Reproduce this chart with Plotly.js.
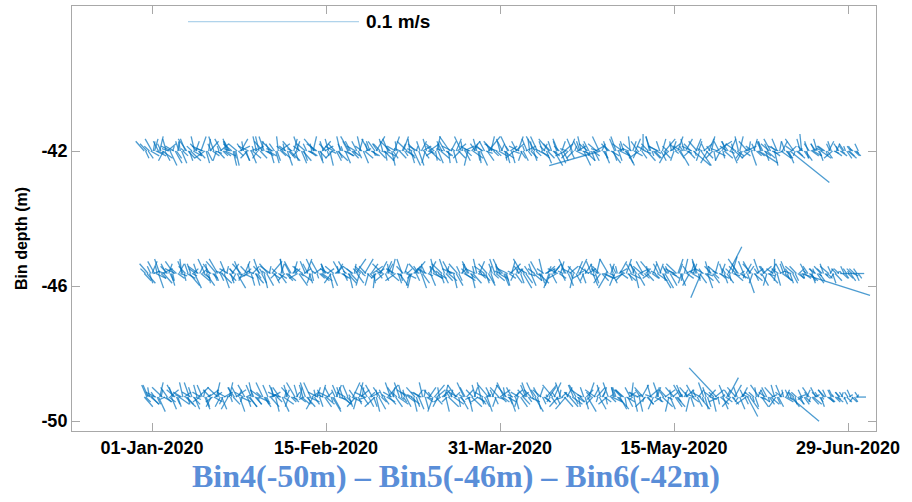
<!DOCTYPE html>
<html>
<head>
<meta charset="utf-8">
<script src="https://cdn.plot.ly/plotly-3.0.1.min.js"></script>
<style>html,body{margin:0;padding:0;background:#fff;}#chart{width:912px;height:502px;}</style>
</head>
<body>
<div id="chart"></div>
<script>
// ---- data: velocity components (mm/s), sampled 00h / 08h / 16h each day from 2019-12-30 ----
const startDate = [2019, 11, 30];            // first day (UTC, month 0-based)
const binDepths = [-42.0, -45.63, -49.29];   // Bin6, Bin5, Bin4 (m)
const sampleHours = [0, 8, 16];

// 00h samples
const u42 = [-5,3,-4,6,2,-3,5,-6,4,-2, 3,-5,6,-2,4,-6,2,5,-3,4, -4,6,-3,2,-5,4,3,-6,5,-2, 4,-3,5,-6,2,6,-4,3,-5,2,
 -3,5,-2,4,-6,3,5,-4,2,-5, 6,-2,3,-5,4,-3,-2,5,-4,3, 5,-4,6,-3,2,-5,4,3,-6,2, -4,3,5,-2,6,-5,3,-3,4,-6,
 2,5,-4,3,-5,6,-2,4,-3,7, -5,3,-2,6,-4,2,5,-6,3,-3, 4,-5,6,-2,3,-4,5,-3,2,-6, 3,-4,5,-2,6,-3,4,-5,-30,3,
 -4,5,-3,6,-2,4,-5,3,-6,0, 5,-3,4,-6,2,-4,6,-2,3,-5, 4,-3,10,-5,6,-2,3,-4,9,-3, 5,-4,3,-6,2,4,-5,3,-2,11,
 -3,5,-4,2,-6,3,4,23,-5,3, -1,4,-3,5,-2,6,-4,3,-5,2, 4,-3,5,-2,3];
const v42 = [4,-3,5,-2,6,-4,3,2,-5,4, -2,5,-4,6,-3,2,-5,4,6,-3, 5,-2,4,-6,3,5,-4,2,-3,6, -3,6,-2,4,-5,3,2,-6,4,-4,
 6,-4,3,-2,5,-5,4,3,-6,2, -4,3,-5,6,-2,4,6,-3,5,-2, 6,3,-4,5,-6,2,-3,6,4,-5, 3,-6,2,5,-4,3,-5,4,-2,6,
 -5,3,6,-4,2,-3,5,-6,4,6, 4,-2,5,-3,6,-5,3,2,-4,5, -3,6,-2,4,-5,3,-6,5,4,-2, 5,-3,2,6,-4,4,-2,3,-6,-5,
 3,-5,6,-2,4,-6,3,5,-3,7, -4,6,-3,2,5,-5,3,-4,6,2, 5,-2,-6,4,-6,3,5,-3,4,-4, -3,4,-5,3,6,-2,4,-6,3,-5,
 4,-3,5,-6,2,4,-3,-13,5,-2, 7,-4,3,-2,5,-3,2,4,-3,3, -2,3,-3,2,-2];
const u46 = [4,-5,3,6,-3,5,-4,2,-6,3, -3,5,-2,4,-6,3,5,-4,2,-5, 6,-3,4,-2,5,-5,3,-6,4,2, -4,2,-5,6,-3,4,-2,5,-4,3,
 5,-6,3,-2,4,-4,6,-3,2,-5, 3,5,-4,2,-6,4,-3,5,-2,6, -3,4,-5,3,2,-6,5,-4,3,-2, 6,-3,4,-5,3,-2,5,-6,4,-4,
 2,-5,3,6,-4,5,-2,3,-6,4, -2,5,-4,3,-6,2,4,-3,5,-5, 3,-4,6,-2,5,-3,4,-6,2,-4, 5,-2,3,-5,4,-6,3,2,-4,6,
 -5,3,-2,4,-6,5,-3,2,6,-4, 4,-6,3,-3,5,-2,4,-5,3,-2, 6,-4,2,-3,-6,5,-2,4,-5,3, 2,8,3,-4,5,-3,4,-5,2,-3,
 5,-2,3,0,-4,6,-3,2,-5,4, 40,-3,5,-2,4,-4,3,-5,2,-3, 14,-2,3,-3,2];
const v46 = [-3,4,5,-2,6,-4,3,-5,2,4, 5,-2,4,-6,3,2,-5,4,-3,6, -4,5,-3,2,-6,4,5,-2,3,-5, 3,-6,4,5,-2,-4,6,-3,5,2,
 -5,3,6,-4,2,5,-3,4,-6,3, 4,-2,5,-6,3,-4,2,6,-5,3, -2,5,-3,4,6,-3,-5,3,2,-6, 5,3,-4,2,-5,6,-2,4,-3,5,
 -6,4,2,-3,5,-4,6,-2,3,-5, 4,-3,6,-5,2,5,-4,3,-6,2, -5,2,-4,6,3,-5,4,2,-3,6, 3,-6,5,-2,4,3,-5,6,-4,-2,
 6,-4,3,5,-2,-3,4,-6,2,5, -3,5,-2,4,-6,3,-5,2,6,-4, 2,-5,4,6,-10,-3,5,-4,3,-2, -4,11,7,3,-2,5,-8,4,-3,6,
 3,-5,4,6,2,-3,5,-4,3,-2, -9,4,-3,2,-4,3,-2,3,-4,2, 0,3,-2,2,-3];
const u50 = [5,-3,4,-6,2,5,-4,3,-5,6, -2,4,-5,3,6,-3,2,-4,5,-6, 3,-5,2,4,-3,6,-4,5,-2,3, -6,4,-3,5,2,-4,6,-2,3,-5,
 4,-2,5,-4,3,-6,2,5,-3,4, -3,6,-5,2,4,-2,5,-6,3,-4, 2,-4,3,6,-5,4,-3,2,-6,5, -5,3,-2,4,-4,6,-3,5,2,-2,
 6,-5,4,-3,2,-4,5,-2,3,-6, 3,-2,6,-4,5,-3,2,-5,4,-3, -4,5,-3,2,6,-2,4,-5,3,-6, 5,-3,4,-6,2,3,-4,5,-2,4,
 -3,6,-2,4,-5,3,1,-4,2,-5, 4,-2,5,-3,6,-4,3,-5,2,-3, 5,-2,-4,3,-6,2,4,2,-16,5, -3,6,4,-5,3,-2,6,-4,2,-5,
 4,-3,5,-2,3,-4,2,17,-3,4, -2,3,-4,5,-3,2,-4,3,-2,4, -3,2,-2,3,6];
const v50 = [-4,5,-3,2,6,-2,4,-5,3,-3, 6,-3,2,-5,4,5,-4,3,-2,4, -5,2,6,-3,4,-2,5,-4,6,-3, 3,-4,5,2,-6,4,-3,5,-2,6,
 -2,5,-4,6,-3,2,5,-3,4,-5, 5,-3,2,-4,6,-5,3,2,-4,5, -6,4,-3,5,2,-4,6,-2,3,-3, 4,-5,6,-2,3,5,-4,3,-6,2,
 -3,2,-5,4,-6,3,-2,6,-4,5, 5,-4,3,6,-2,4,-5,2,-3,6, 3,-6,4,-3,5,-2,6,-4,2,-5, -4,5,-2,3,-5,6,-3,4,5,-2,
 6,-2,4,-5,3,-4,6,2,-6,4, -3,5,-2,6,-4,3,-5,4,-2,5, 3,-6,5,-4,2,-5,3,-6,12,-3, 5,8,-3,4,-5,3,-8,2,-4,5,
 -2,4,-3,5,-4,2,3,-10,2,-3, 3,-2,4,-3,2,-4,3,-2,3,-2, 2,-3,2,-2,0];

// 08h samples
const u42b = [2,-3,1,4,-2,3,-4,1,3,-1, -2,4,-3,2,1,-4,3,-2,4,-1, 3,-2,-4,1,3,-3,2,4,-1,-3, 1,3,-2,-4,2,3,-1,4,-3,2,
 -4,2,3,-1,-3,4,-2,1,3,-4, 2,-1,4,-3,1,2,-4,3,-2,1, -3,4,1,-2,3,-1,-4,2,4,-3, 1,-2,3,4,-3,1,-1,-4,2,3,
 -2,4,-1,3,-4,2,1,-3,4,-2, 3,-4,2,1,-2,4,-3,3,-1,2, -1,3,-4,2,4,-2,1,-3,3,-4, 2,1,-3,4,-2,-1,3,-4,2,1,
 -3,2,4,-1,3,-4,2,-2,1,4, -4,1,3,-2,4,-3,-1,2,3,-2, 3,-4,1,2,-3,4,-2,1,-4,3, -2,3,-1,4,-3,2,1,-4,3,-1,
 4,-2,3,-3,1,-4,2,3,-1,2, -3,1,4,-2,2,-3,1,-2,3,-1, 2,-1,3,-2,1];
const v42b = [-3,2,4,-1,3,-4,1,2,-3,4, 1,-3,2,4,-2,1,-4,3,-1,2, -2,4,1,-3,-2,3,-4,1,2,-3, 4,-1,3,1,-4,-2,3,-3,1,4,
 2,-4,-1,3,2,-3,4,-2,-1,3, -3,2,-2,4,-1,-3,2,1,4,-2, 3,-1,-4,2,-3,4,1,-2,-3,1, 2,4,-3,-1,2,-4,3,1,-2,4,
 1,-3,4,-2,1,3,-4,2,-1,3, -2,1,3,-4,2,-1,4,-3,2,-2, 4,-2,1,3,-3,4,-1,2,-4,1, -3,2,4,-1,3,-2,-4,1,3,-3,
 2,-4,1,3,-2,1,4,-3,2,-1, 3,-2,-1,4,-3,2,4,-1,-3,2, -1,3,-2,4,1,-3,2,-4,1,3, 4,-1,3,-2,-3,1,4,2,-2,4,
 -2,3,-1,2,4,-1,-3,2,-2,1, 2,-3,1,3,-2,1,-2,3,-1,2, -1,2,-2,1,-1];
const u46b = [-3,2,4,-1,3,-4,2,1,-3,4, 1,-2,3,-4,2,4,-1,-3,2,3, -4,1,2,-3,4,-2,3,-1,-4,2, 3,-2,1,4,-3,2,-4,1,3,-1,
 2,4,-3,1,-2,3,-1,4,-4,2, -1,3,-2,4,1,-3,2,-4,3,1, 4,-3,2,-1,-4,3,1,2,-2,-3, 2,1,-4,3,-1,4,-2,3,1,-3,
 -4,2,1,-3,3,-1,4,-2,2,1, 3,-1,-4,2,4,-3,1,2,-2,4, -2,3,1,-4,2,3,-1,4,-3,2, 1,-4,3,2,-1,3,-2,-4,4,1,
 3,-2,-1,4,-3,2,1,-4,2,3, -1,4,-3,2,1,-2,3,-4,2,-1, 4,2,-3,1,-2,4,-1,3,-3,2, -2,1,4,-3,2,-1,3,-2,4,1,
 -3,4,2,-1,3,-2,1,-4,2,3, 1,-2,3,-1,2,-3,1,2,-2,1, -1,2,-1,3,-2];
const v46b = [2,-4,1,3,-2,1,4,-3,2,-1, -3,4,-1,2,3,-2,4,1,-3,2, 1,3,-4,2,-1,-3,2,4,1,-2, -4,1,3,-2,2,4,-3,-1,2,3,
 -1,2,4,-3,1,-2,3,2,-4,1, 3,-2,1,-3,4,2,-1,3,-2,-4, 2,1,-3,4,2,-1,-3,4,1,-2, -3,4,2,-1,3,-2,1,-4,3,2,
 1,-3,4,2,-2,3,-1,1,-4,3, -2,4,1,-3,-2,1,3,-4,2,-1, 4,-1,-3,2,3,-4,2,-2,1,3, -2,3,1,-4,2,-1,4,2,-3,1,
 -1,4,3,-2,1,-3,2,4,-1,-2, 3,-2,1,4,-3,2,-1,1,4,-3, -2,4,1,-3,2,-1,3,-2,1,4, 2,-3,-1,4,1,-2,3,-4,2,-1,
 3,-1,2,-3,1,4,-2,1,-3,2, -2,1,-3,2,-1,2,-1,2,-2,1, 1,-2,1,-1,2];
const u50b = [3,-1,-4,2,1,-3,4,-2,2,-3, 4,1,-2,3,-4,1,2,-3,4,-1, -2,3,1,-4,2,-1,3,4,-2,1, -3,2,4,-1,3,-4,1,-2,3,2,
 1,-3,2,4,-1,2,-4,3,1,-2, 4,-2,3,-1,-3,2,1,-4,3,2, -1,3,-2,4,1,-3,2,-1,4,-3, 2,-4,1,3,-2,4,-1,2,-3,1,
 3,1,-2,4,-3,2,-4,1,3,-1, -2,4,3,-1,2,-3,1,4,-4,2, 1,-3,2,4,-1,3,-2,1,-4,3, -4,2,1,-3,4,-2,3,-1,2,1,
 2,-1,3,-4,1,4,-2,3,-3,-1, 3,-4,2,1,-2,3,-1,4,2,-3, -1,2,-4,3,1,-2,4,-3,1,2, 4,-3,1,-2,3,2,-4,1,-1,3,
 -2,1,3,-4,2,-1,3,-2,1,4, -3,2,-1,3,-2,1,-2,3,-1,2, 1,-1,2,-2,1];
const v50b = [-2,4,1,-3,3,-1,-2,4,-3,1, 2,-3,4,-1,-2,3,1,-4,2,3, -3,1,-2,4,3,-2,1,-4,3,-1, 2,-3,1,4,-2,1,3,-4,-1,2,
 4,-1,-3,2,3,-4,1,2,-2,3, -1,4,-2,1,3,-3,4,-1,2,-4, 3,-2,1,-3,4,2,-1,3,-2,1, -4,2,3,-1,2,-3,4,1,-2,3,
 2,-4,1,3,-1,4,-2,-3,1,2, 3,-1,-2,4,-3,1,2,-4,3,-2, -1,3,4,-2,1,-3,2,3,-1,4, 2,-3,-4,1,3,-1,4,-2,2,-3,
 1,4,-2,3,-4,2,-1,1,3,-2, -3,1,4,-2,2,-1,3,-4,1,3, 2,-4,1,3,-2,4,-1,2,-3,1, -2,3,-1,4,2,-3,1,-2,4,-1,
 3,-2,1,-4,2,3,-1,2,-3,1, -1,3,-2,1,2,-1,3,-2,1,-1, 2,-1,1,-2,1];

// 16h samples
const u42c = [-4,5,2,-3,6,-2,4,-5,1,3, -3,2,5,-4,3,-6,1,4,-2,5, 4,-3,-5,2,6,-1,-4,3,5,-2, -5,4,2,-3,-1,5,-4,6,2,-3,
 3,-5,4,2,-6,1,5,-2,-4,3, -2,6,-3,4,-5,2,3,-1,5,-4, 4,-2,5,-6,3,-3,2,5,-1,4, -5,3,-2,6,-4,2,5,-3,1,-6,
 3,-4,6,-2,5,-3,1,-5,4,2, -6,5,-3,2,4,-5,3,-2,6,-1, 2,-4,5,-3,-6,4,-2,3,5,-4, -3,6,-2,4,-5,2,5,-4,3,-2,
 5,-3,2,-6,4,-1,5,-4,3,-5, -2,4,-5,3,6,-3,2,-4,5,-2, 4,-6,3,-2,5,-4,2,6,-3,1, -4,3,5,-2,-3,6,-5,2,4,-3,
 2,-5,4,-3,6,-2,3,-4,5,-2, 3,-2,4,-3,2,-4,3,-2,4,-3, -2,3,-2,3,-2];
const v42c = [3,-2,5,4,-3,5,-6,2,4,-5, 5,-4,-2,3,6,-3,5,-2,-4,3, -2,5,3,-6,2,4,-3,-5,2,6, 4,-2,-5,3,6,-3,2,-4,5,-2,
 -5,3,-2,6,3,-4,2,5,-3,-4, 6,-2,4,-3,2,5,-5,3,-2,4, -3,5,-2,4,6,-4,3,-2,5,-6, 2,4,-5,3,-2,6,-3,4,-5,2,
 5,-3,2,-6,4,3,-5,2,-4,6, 3,-2,4,-5,2,-3,6,-4,2,5, -4,6,-3,2,5,-2,4,-5,3,-3, 5,-2,4,-6,3,-4,2,6,-3,4,
 -2,5,-4,3,-5,6,-2,4,-3,2, 6,-3,2,-4,5,-2,4,3,-6,5, -3,2,5,-4,3,-5,6,-2,4,-3, 2,5,-3,6,-4,2,-3,5,-2,4,
 -4,3,-2,5,-3,4,-5,2,-3,5, -3,4,-2,3,-4,2,-3,4,-2,3, 2,-3,2,-2,3];
const u46c = [5,-2,-4,3,6,-3,2,-5,4,-1, -4,6,3,-2,5,-4,1,3,-6,2, 3,-5,4,-2,-3,6,-4,2,5,-3, -2,4,-6,3,5,-1,4,-3,2,-5,
 6,-3,2,-4,1,5,-2,-5,3,4, -4,2,5,-3,6,-2,-5,3,4,-1, 2,-6,3,5,-4,2,-3,6,-2,4, -5,3,-2,4,6,-4,2,-3,5,-6,
 4,-2,5,-3,2,-6,3,4,-5,2, -3,5,-4,2,6,-2,3,-5,4,-3, 5,-4,2,6,-3,4,-5,2,-2,3, -6,3,4,-2,5,-3,2,-4,6,-5,
 2,-3,5,-4,3,6,-2,4,-5,3, -4,2,6,-3,5,-2,4,-6,3,2, -3,5,-2,4,-5,3,-4,2,6,-2, 4,-3,5,-6,2,3,-4,5,-2,4,
 -3,5,-4,2,-3,4,-2,3,-4,2, 4,-3,2,-4,3,-2,3,-2,4,-3, 3,-2,3,-3,2];
const v46c = [-4,3,5,-6,2,4,-3,5,-2,6, 3,-5,2,4,-3,6,-4,-2,5,-3, -6,2,4,-3,5,-2,3,-5,-4,6, 2,-5,3,-4,-2,6,-3,4,5,-2,
 -3,5,-4,6,-2,-3,4,2,-5,3, 5,-3,-4,2,6,-5,3,-2,4,-6, -2,4,5,-3,2,-4,6,-2,-5,3, 4,-6,3,5,-2,3,-4,6,-3,2,
 -5,3,-2,4,-6,2,5,-3,4,-4, 6,-2,3,-5,4,-3,2,6,-4,3, -3,5,-4,2,-6,3,-2,5,4,-5, 2,-4,6,-3,2,5,-4,3,-2,-6,
 4,-5,2,-3,6,-2,4,-5,3,2, -2,4,-3,5,-6,3,-2,4,-5,6, 3,-2,5,-4,2,-6,3,5,-2,4, -4,2,-3,6,-2,4,5,-3,2,-5,
 3,-4,2,-5,4,-3,2,-4,3,-2, -2,3,-4,2,-3,4,-2,3,-3,2, -2,2,-3,2,-2];
const u50c = [-3,5,-2,4,-6,3,5,-4,2,-5, 6,-3,4,-2,-5,3,6,-4,2,-3, 5,-4,-2,6,3,-5,2,-3,4,6, -4,2,5,-3,-6,4,2,-5,3,-2,
 5,-3,6,-4,2,-2,4,-6,5,3, -2,4,-3,6,-5,2,3,-4,5,-6, 4,-2,5,-3,-4,6,-2,3,-5,2, 3,-6,2,4,-3,5,-4,2,6,-3,
 -5,3,-4,2,6,-2,4,-5,3,-3, 2,-5,4,-6,3,5,-2,4,-3,6, -4,2,-5,3,4,-6,2,-3,5,-2, 6,-4,3,-2,5,-3,-6,4,2,-5,
 3,-2,6,-4,5,-3,2,-5,4,-6, 5,-3,2,-4,6,-2,3,5,-4,2, -5,4,-2,6,-3,2,-4,5,-6,3, 2,-5,4,-2,3,-6,5,-3,2,4,
 -4,3,-5,2,-3,5,-2,4,-3,2, 3,-2,4,-3,2,-3,4,-2,3,-2, -2,3,-2,2,-2];
const v50c = [5,-3,2,-6,4,-2,3,5,-4,2, -4,6,-3,5,2,-5,3,-2,6,-4, 2,-5,4,3,-6,2,-4,5,-3,-2, 6,-3,-4,5,2,-6,3,4,-2,5,
 -3,6,-2,-5,4,3,-4,2,-6,5, 4,-3,5,-2,-4,6,-3,5,2,-4, -5,3,-2,6,4,-3,5,-4,2,-6, 3,2,-5,4,-6,3,-2,5,-4,3,
 5,-2,6,-3,-4,5,-3,2,-6,4, -3,4,-2,5,-6,3,-4,2,5,-2, 6,-5,3,-2,4,5,-3,6,-4,2, -3,5,-2,4,-6,2,3,-5,4,-3,
 -2,4,-5,3,-2,4,-6,2,5,-4, 3,-5,4,-2,3,-6,2,-4,5,3, 4,-2,3,-5,6,-4,2,3,-2,-5, 3,-4,5,-2,4,-3,-5,2,3,-4,
 2,-3,4,-3,5,-2,3,-4,2,-3, -3,2,-3,4,-2,3,-2,3,-2,2, 2,-2,3,-2,2];

const uSets = [[u42, u46, u50], [u42b, u46b, u50b], [u42c, u46c, u50c]];
const vSets = [[v42, v46, v50], [v42b, v46b, v50b], [v42c, v46c, v50c]];

const xTickVals = ['2020-01-01', '2020-02-15', '2020-03-31', '2020-05-15', '2020-06-29'];
const xTickText = ['01-Jan-2020', '15-Feb-2020', '31-Mar-2020', '15-May-2020', '29-Jun-2020'];
const yTickVals = [-50, -46, -42];
const yTickText = ['-50', '-46', '-42'];

const scaleRef = 100;                  // reference vector, mm/s (0.1 m/s)
const scaleLabel = '0.1 m/s';
const scaleStart = '2020-01-10T07:26:00Z';
const scaleDepth = -38.17;

// ---- stick scaling ----
const DAY = 86400000, HOUR = 3600000;
const DAYS_PER_MMS = 0.4422;   // horizontal: days per mm/s (matches the 0.1 m/s key)
const M_PER_MMS = 0.072;       // vertical: metres of depth axis per mm/s

const t0 = Date.UTC(startDate[0], startDate[1], startDate[2]);
const xs = [], ys = [];
for (let s = 0; s < sampleHours.length; s++) {
  for (let k = 0; k < binDepths.length; k++) {
    const u = uSets[s][k], v = vSets[s][k], d = binDepths[k];
    for (let i = 0; i < u.length; i++) {
      const t = t0 + i * DAY + sampleHours[s] * HOUR;
      xs.push(t, t + u[i] * DAYS_PER_MMS * DAY, null);
      ys.push(d, d + v[i] * M_PER_MMS, null);
    }
  }
}

const sTime = new Date(scaleStart).getTime();
const sEnd = sTime + scaleRef * DAYS_PER_MMS * DAY;

const traces = [
  {x: xs, y: ys, type: 'scatter', mode: 'lines', connectgaps: false,
   line: {color: 'rgba(0,114,189,0.7)', width: 1.3}, hoverinfo: 'skip', showlegend: false},
  {x: [sTime, sEnd], y: [scaleDepth, scaleDepth], type: 'scatter', mode: 'lines',
   line: {color: 'rgba(0,114,189,0.4)', width: 1}, hoverinfo: 'skip', showlegend: false}
];

const boldSans = {family: 'Liberation Sans, Arial, sans-serif', color: '#000', weight: 'bold'};
const axisCommon = {
  showline: true, linecolor: '#a8a8a8', linewidth: 1, mirror: 'ticks',
  ticks: 'inside', ticklen: 8, tickcolor: '#a8a8a8', tickwidth: 1,
  showgrid: false, zeroline: false,
  tickfont: Object.assign({size: 18}, boldSans)
};

const layout = {
  width: 912, height: 502,
  margin: {l: 72, r: 36, t: 6, b: 71},
  paper_bgcolor: '#fff', plot_bgcolor: '#fff',
  showlegend: false,
  xaxis: Object.assign({}, axisCommon, {
    type: 'date', range: ['2019-12-11 07:26', '2020-07-06 05:45'],
    tickmode: 'array', tickvals: xTickVals, ticktext: xTickText
  }),
  yaxis: Object.assign({}, axisCommon, {
    range: [-50.296, -37.704],
    tickmode: 'array', tickvals: yTickVals, ticktext: yTickText
  }),
  title: {
    text: 'Bin4(-50m) – Bin5(-46m) – Bin6(-42m)',
    x: 0.5, xref: 'container', xanchor: 'center',
    y: 0.052, yref: 'container', yanchor: 'middle',
    font: {family: 'Liberation Serif, Times New Roman, serif', size: 32, color: '#5a8ed8', weight: 'bold'}
  },
  annotations: [
    {x: sEnd, y: scaleDepth, xref: 'x', yref: 'y', xanchor: 'left', yanchor: 'middle',
     xshift: 5, showarrow: false, text: scaleLabel, font: Object.assign({size: 19}, boldSans)},
    {x: -0.062, y: 0.452, xref: 'paper', yref: 'paper', xanchor: 'center', yanchor: 'middle',
     textangle: -90, showarrow: false, text: 'Bin depth (m)', font: Object.assign({size: 16}, boldSans)}
  ]
};

Plotly.newPlot('chart', traces, layout, {staticPlot: true, displayModeBar: false});
</script>
</body>
</html>
